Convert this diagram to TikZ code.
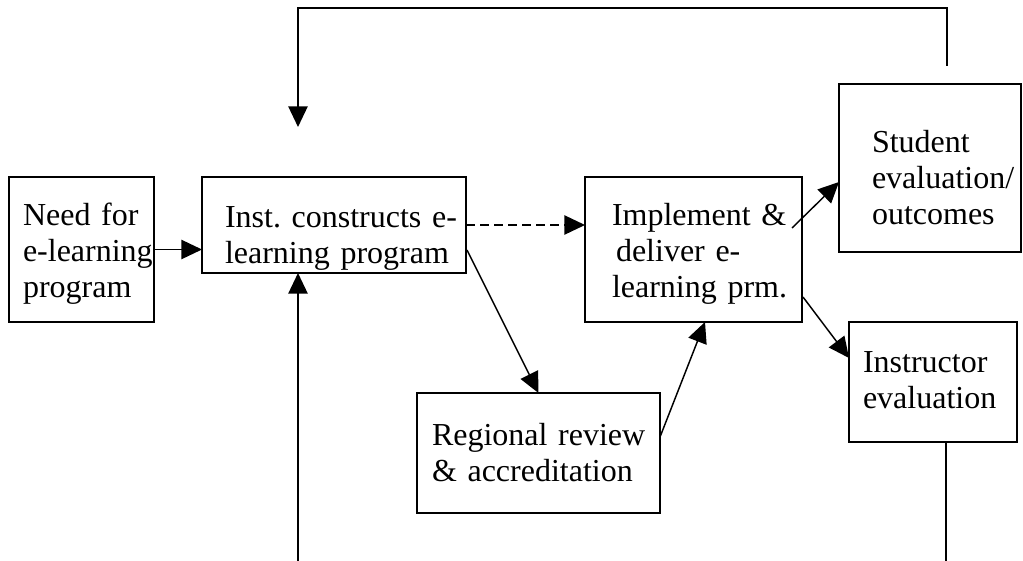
\documentclass[tikz,border=0pt]{standalone}
\usepackage{fontspec}
\setmainfont{Liberation Serif}
\usetikzlibrary{arrows.meta,calc}
\frenchspacing
\begin{document}
\begin{tikzpicture}[x=0.75pt,y=-0.75pt,
  box/.style={draw, line width=1pt, inner sep=0pt, outer sep=0pt},
  txt/.style={anchor=north west, inner sep=0pt, outer sep=0pt, text width=200pt, align=left, font=\fontsize{24pt}{27pt}\selectfont\frenchspacing},
  conn/.style={line width=1.1pt},
  arr/.style={conn, -{Triangle[length=15.5pt,width=14.5pt]}}]
\useasboundingbox (0,0) rectangle (1023,560);
\clip (0,0) rectangle (1023,560);
% boxes
\node[box, minimum width=108.75pt, minimum height=108.75pt] (b1) at (81.5,249.5) {};
\node[box, minimum width=198pt, minimum height=72pt] (b2) at (334,225) {};
\node[box, minimum width=162.75pt, minimum height=108.75pt] (b3) at (693.5,249.5) {};
\node[box, minimum width=136.5pt, minimum height=126pt] (b4) at (930,168) {};
\node[box, minimum width=126pt, minimum height=90pt] (b5) at (933,382) {};
\node[box, minimum width=182.25pt, minimum height=90pt] (b6) at (538.5,453) {};
% texts
\node[txt] (t1) at (23,199.8) {\strut Need for\\e-learning\\program};
\node[txt] (t2) at (225,201.8) {\strut Inst. constructs e-\\learning program};
\node[txt] (t3) at (612,199.8) {\strut Implement \&\\\hspace*{3pt}deliver e-\\learning prm.};
\node[txt] (t4) at (872,126.8) {\strut Student\\evaluation/\\outcomes};
\node[txt] (t5) at (863,346.8) {\strut Instructor\\evaluation};
\node[txt] (t6) at (432,419.8) {\strut Regional review\\\& accreditation};
% connectors
\draw[arr] (b1.east) -- (b2.west |- b1.east);
\draw[arr, dash pattern=on 6.5pt off 4pt] (b2.east) -- (b3.west |- b2.east);
\draw[arr] ($(b2.east)+(1,25)$) -- (b6.north);
\draw[arr] ($(b6.east)+(0,-16)$) -- ($(b3.south)+(11.5,0)$);
\draw[arr] ($(b3.east)+(-10,-21.5)$) -- ($(b4.west)+(0,14)$);
\draw[arr] ($(b3.east)+(1,47.5)$) -- ($(b5.west)+(0,-24)$);
\coordinate (fbs) at (947,66);
\coordinate (fbt) at (298,127);
\draw[arr] (fbs) -- (947,8) -| (fbt);
\draw[arr] ($(b5.south)+(13,0)$) -- ++(0,140) -| ($(b2.south)+(-36,0)$);
\end{tikzpicture}
\end{document}
